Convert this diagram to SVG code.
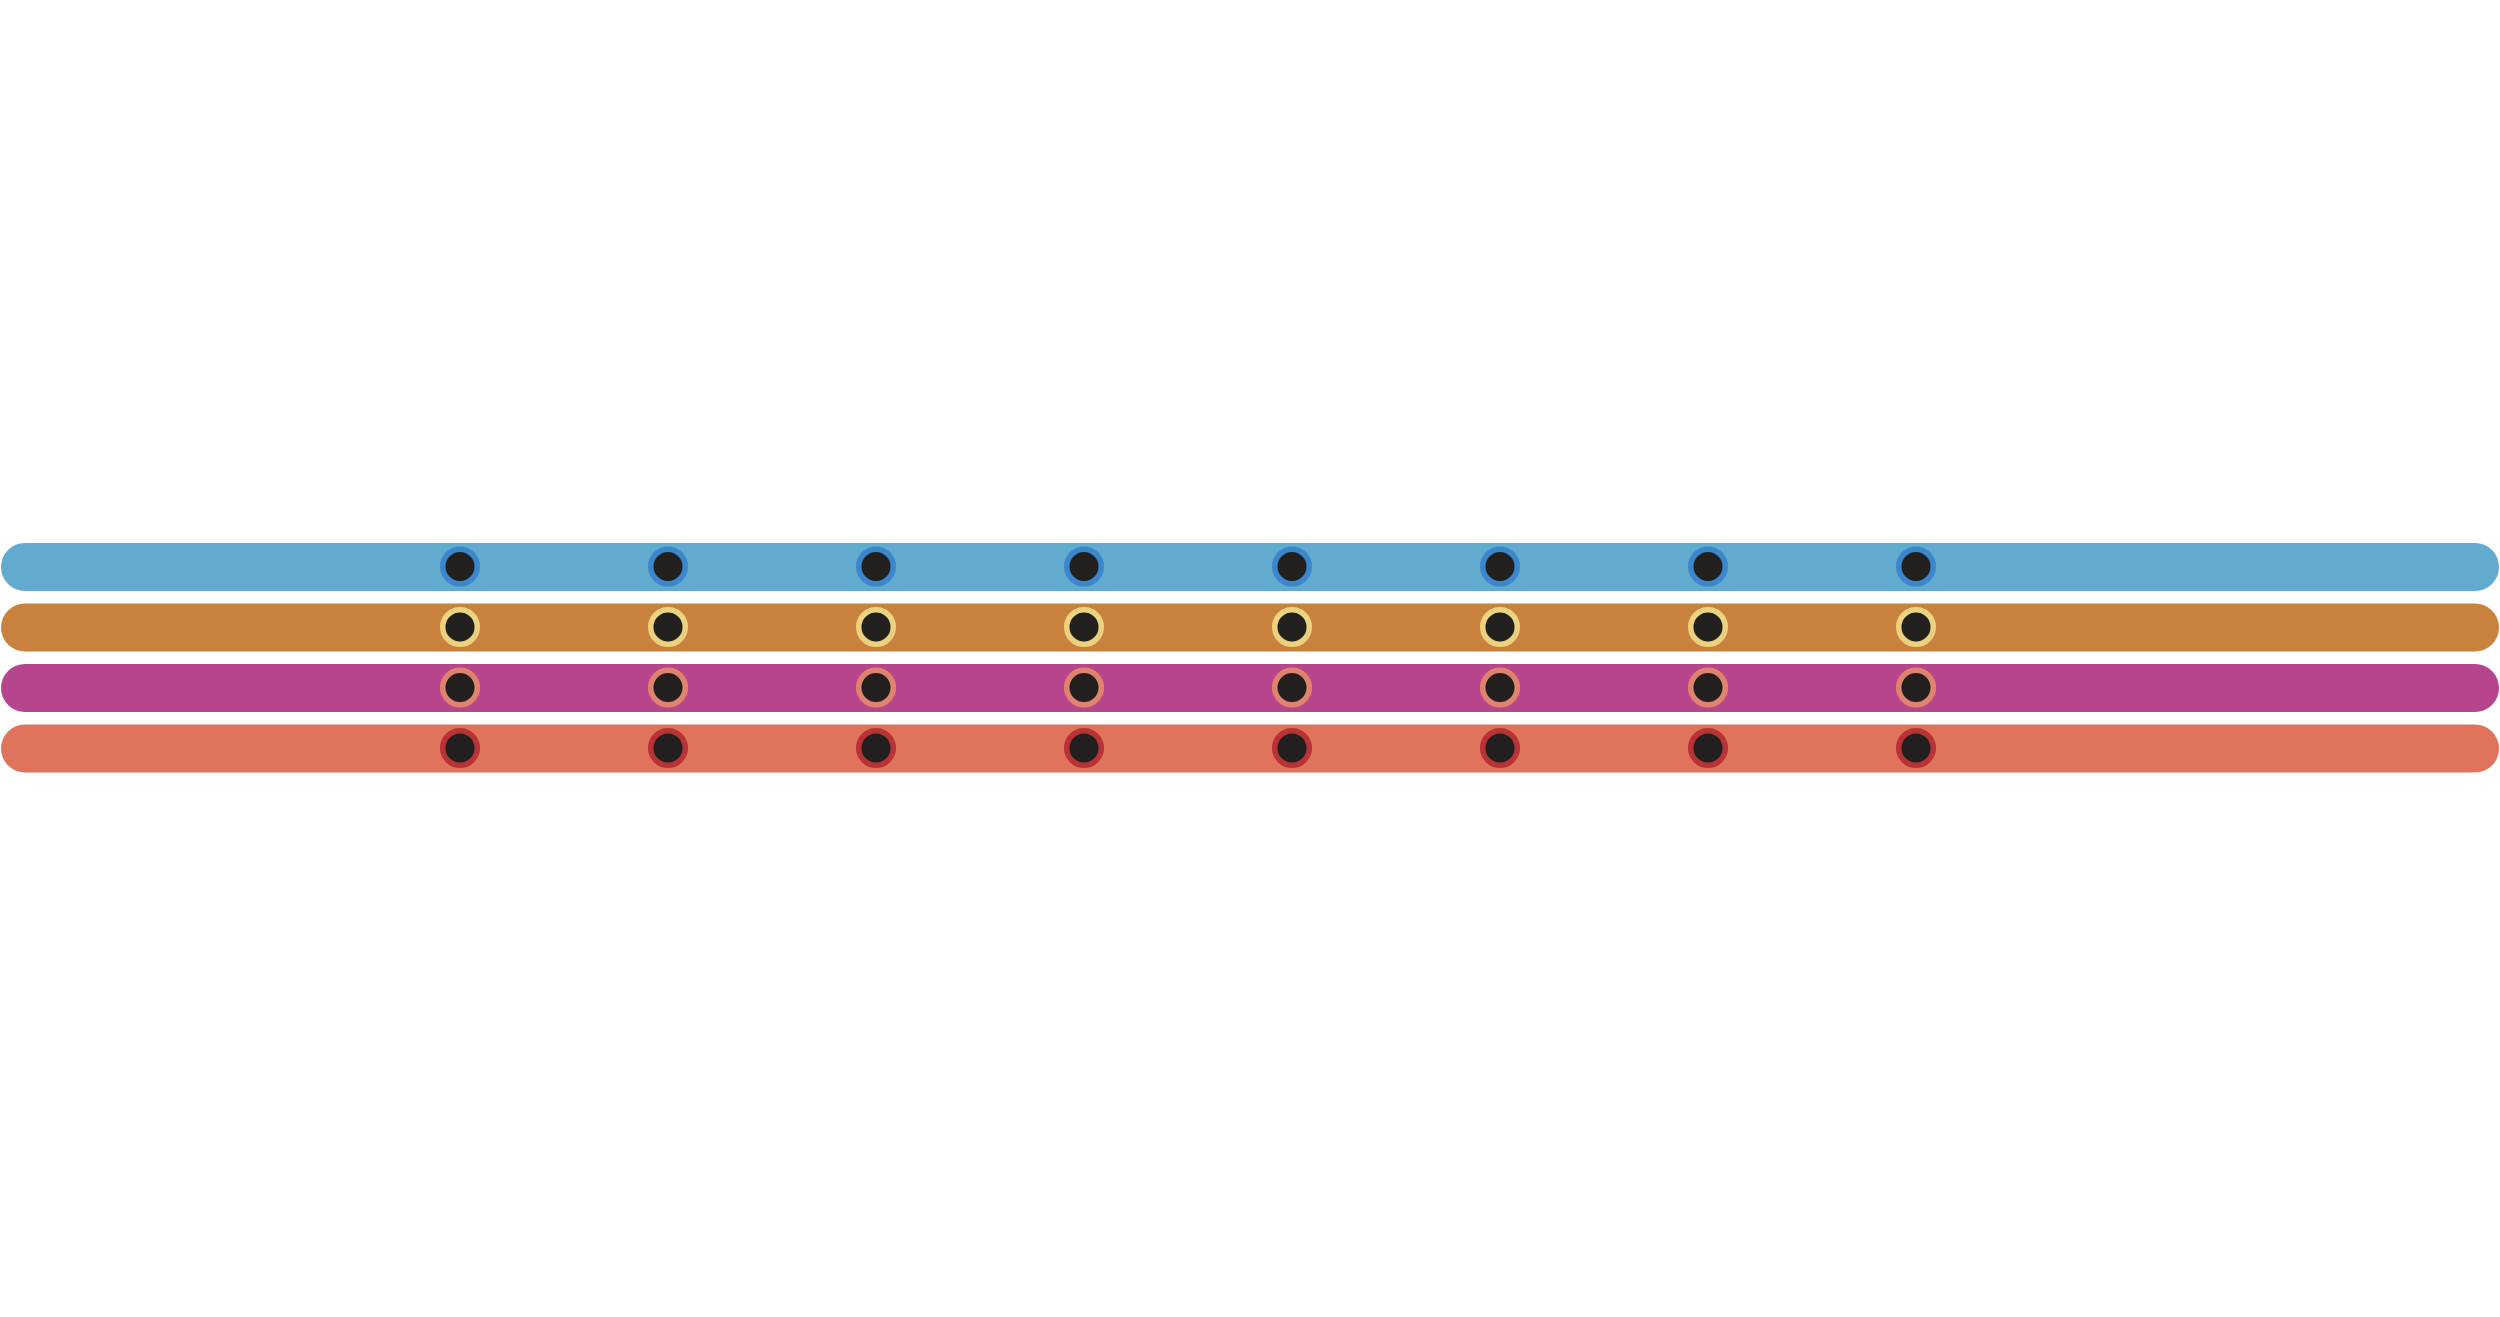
<svg xmlns="http://www.w3.org/2000/svg" width="2500" height="1317" viewBox="0 0 2500 1317">
<style>
.bar{stroke:none}
.b1{fill:#62AACE}.b2{fill:#C8823D}.b3{fill:#B6458E}.b4{fill:#E0735B}
.dot{fill:#22201F;stroke-width:5.5}
.s1{stroke:#3A87CC}.s2{stroke:#EDD27E}.s3{stroke:#E0836F}.s4{stroke:#B83434}
</style>
<defs>
<circle id="d" r="17.3"/>
</defs>
<rect width="2500" height="1317" fill="#FFFFFF"/>
<g id="connectors">
<rect id="line1" class="bar b1" x="1" y="543" width="2498" height="48" rx="24"/>
<rect id="line2" class="bar b2" x="1" y="603.5" width="2498" height="48" rx="24"/>
<rect id="line3" class="bar b3" x="1" y="664" width="2498" height="48" rx="24"/>
<rect id="line4" class="bar b4" x="1" y="724.5" width="2498" height="48" rx="24"/>
</g>
<g id="stations-line1" class="dot s1">
<use href="#d" x="460" y="566.5"/><use href="#d" x="668" y="566.5"/><use href="#d" x="876" y="566.5"/><use href="#d" x="1084" y="566.5"/>
<use href="#d" x="1292" y="566.5"/><use href="#d" x="1500" y="566.5"/><use href="#d" x="1708" y="566.5"/><use href="#d" x="1916" y="566.5"/>
</g>
<g id="stations-line2" class="dot s2">
<use href="#d" x="460" y="627"/><use href="#d" x="668" y="627"/><use href="#d" x="876" y="627"/><use href="#d" x="1084" y="627"/>
<use href="#d" x="1292" y="627"/><use href="#d" x="1500" y="627"/><use href="#d" x="1708" y="627"/><use href="#d" x="1916" y="627"/>
</g>
<g id="stations-line3" class="dot s3">
<use href="#d" x="460" y="687.5"/><use href="#d" x="668" y="687.5"/><use href="#d" x="876" y="687.5"/><use href="#d" x="1084" y="687.5"/>
<use href="#d" x="1292" y="687.5"/><use href="#d" x="1500" y="687.5"/><use href="#d" x="1708" y="687.5"/><use href="#d" x="1916" y="687.5"/>
</g>
<g id="stations-line4" class="dot s4">
<use href="#d" x="460" y="748"/><use href="#d" x="668" y="748"/><use href="#d" x="876" y="748"/><use href="#d" x="1084" y="748"/>
<use href="#d" x="1292" y="748"/><use href="#d" x="1500" y="748"/><use href="#d" x="1708" y="748"/><use href="#d" x="1916" y="748"/>
</g>
</svg>
